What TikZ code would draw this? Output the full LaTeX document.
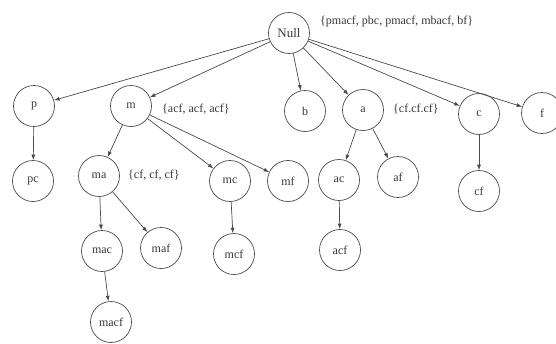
\documentclass[tikz,border=0pt]{standalone}
\usepackage{fontspec}
\setmainfont{Liberation Serif}
\usetikzlibrary{arrows.meta}
\definecolor{ink}{HTML}{3A3A3A}
\definecolor{edge}{HTML}{4A4A4A}
\begin{document}
\begin{tikzpicture}[x=1pt,y=-1pt,
  tnode/.style={circle,draw=edge,line width=0.7pt,minimum size=41pt,inner sep=0pt,
    text=ink,font=\fontsize{12}{14}\selectfont},
  tlabel/.style={anchor=west,inner sep=0pt,text=ink,font=\fontsize{12}{14}\selectfont},
  conn/.style={draw=edge,line width=0.7pt,-{Latex[length=5.5pt,width=4pt]}}]
\useasboundingbox[fill=white] (0,0) rectangle (556,343);
% nodes
\node[tnode,font=\fontsize{13}{15}\selectfont] (null) at (289,33) {Null};
\node[tnode] (p) at (34,106) {p};
\node[tnode] (m) at (131,106) {m};
\node[tnode] (b) at (305,111) {b};
\node[tnode] (a) at (363,110) {a};
\node[tnode] (c) at (479,114) {c};
\node[tnode] (f) at (542,113) {f};
\node[tnode] (pc) at (33,181) {pc};
\node[tnode] (ma) at (99,176) {ma};
\node[tnode] (mc) at (230,181) {mc};
\node[tnode] (mf) at (288,181) {mf};
\node[tnode] (ac) at (339,180) {ac};
\node[tnode] (af) at (398,177) {af};
\node[tnode] (cf) at (479,191) {cf};
\node[tnode] (mac) at (102,251) {mac};
\node[tnode] (maf) at (161,248) {maf};
\node[tnode] (mcf) at (234,254) {mcf};
\node[tnode] (acf) at (340,250) {acf};
\node[tnode] (macf) at (111,322) {macf};
% labels
\node[tlabel] (lnull) at (320,22) {\{pmacf, pbc, pmacf, mbacf, bf\}};
\node[tlabel] (lm) at (162,109) {\{acf, acf, acf\}};
\node[tlabel] (la) at (393,109) {\{cf.cf.cf\}};
\node[tlabel] (lma) at (128,175) {\{cf, cf, cf\}};
% connectors
\foreach \s/\t in {null/p,null/m,null/b,null/a,null/c,null/f,
  p/pc,m/ma,m/mc,m/mf,ma/mac,ma/maf,mac/macf,mc/mcf,a/ac,a/af,ac/acf,c/cf}
  \draw[conn] (\s) -- (\t);
\end{tikzpicture}
\end{document}
